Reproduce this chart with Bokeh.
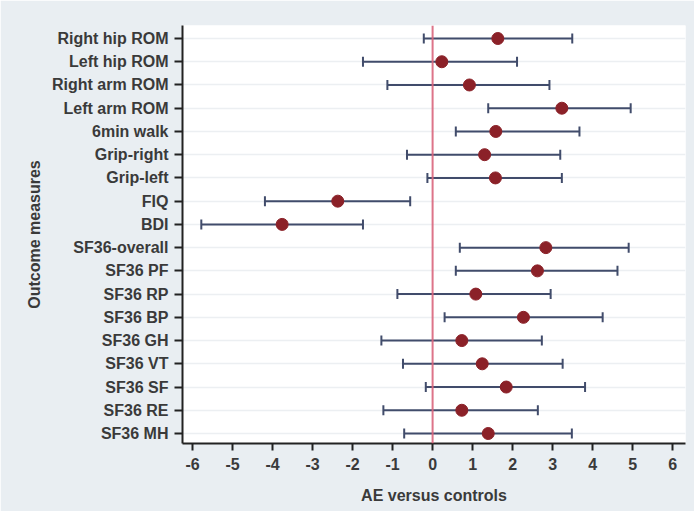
from bokeh.plotting import figure
from bokeh.models import ColumnDataSource, FixedTicker, Whisker, TeeHead, Span
from bokeh.embed import file_html
from bokeh.resources import INLINE

measures = ["Right hip ROM", "Left hip ROM", "Right arm ROM", "Left arm ROM",
            "6min walk", "Grip-right", "Grip-left", "FIQ", "BDI",
            "SF36-overall", "SF36 PF", "SF36 RP", "SF36 BP", "SF36 GH",
            "SF36 VT", "SF36 SF", "SF36 RE", "SF36 MH"]
estimate = [1.63, 0.23, 0.92, 3.23, 1.58, 1.30, 1.57, -2.37, -3.76,
            2.83, 2.62, 1.08, 2.27, 0.73, 1.24, 1.84, 0.73, 1.39]
ci_low = [-0.22, -1.74, -1.13, 1.39, 0.58, -0.64, -0.13, -4.19, -5.78,
          0.68, 0.58, -0.88, 0.30, -1.28, -0.74, -0.17, -1.23, -0.71]
ci_high = [3.49, 2.11, 2.92, 4.95, 3.67, 3.19, 3.23, -0.56, -1.74,
           4.90, 4.62, 2.95, 4.25, 2.73, 3.25, 3.81, 2.63, 3.48]
x_ticks = [-6, -5, -4, -3, -2, -1, 0, 1, 2, 3, 4, 5, 6]
x_tick_labels = ["-6", "-5", "-4", "-3", "-2", "-1", "0", "1", "2", "3", "4", "5", "6"]

n = len(measures)
ypos = [n - i for i in range(n)]

src = ColumnDataSource(dict(y=ypos, est=estimate, lo=ci_low, hi=ci_high))

PANEL = "#e9eef2"
FONT = "Liberation Sans"
TXT = "#3a3a3a"

p = figure(width=694, height=511, output_backend="svg", toolbar_location=None,
           x_range=(-6.25, 6.32), y_range=(0.57, n + 0.56),
           min_border_left=182, min_border_right=9, min_border_top=25,
           min_border_bottom=68)
p.border_fill_color = PANEL
p.background_fill_color = "white"
p.outline_line_color = None

p.xgrid.grid_line_color = None
p.ygrid.ticker = FixedTicker(ticks=ypos)
p.ygrid.grid_line_color = "#eceff2"
p.ygrid.grid_line_width = 1.5

p.add_layout(Span(location=0, dimension="height", line_color="#d9657c",
                  line_width=2, line_alpha=0.9))

w = Whisker(source=src, base="y", lower="lo", upper="hi", dimension="width",
            line_color="#414c6b", line_width=2,
            lower_head=TeeHead(size=10, line_color="#414c6b", line_width=2),
            upper_head=TeeHead(size=10, line_color="#414c6b", line_width=2))
p.add_layout(w)

p.scatter(x="est", y="y", source=src, size=12, fill_color="#8b2128",
          line_color="#8b2128")

p.yaxis.ticker = FixedTicker(ticks=ypos)
p.yaxis.major_label_overrides = {y: m for y, m in zip(ypos, measures)}
p.xaxis.ticker = FixedTicker(ticks=x_ticks)
p.xaxis.major_label_overrides = {t: s for t, s in zip(x_ticks, x_tick_labels)}

for ax in (p.xaxis, p.yaxis):
    ax.minor_tick_line_color = None
    ax.major_tick_in = 0
    ax.major_tick_out = 7
    ax.major_tick_line_width = 2
    ax.major_tick_line_color = "#222222"
    ax.axis_line_color = "#222222"
    ax.axis_line_width = 2
    ax.major_label_text_font = FONT
    ax.major_label_text_font_size = "16px"
    ax.major_label_text_font_style = "bold"
    ax.major_label_text_color = TXT
    ax.axis_label_text_font = FONT
    ax.axis_label_text_font_size = "16px"
    ax.axis_label_text_font_style = "bold"
    ax.axis_label_text_color = TXT

p.yaxis.major_tick_out = 8
p.yaxis.major_label_standoff = 6
p.xaxis.major_label_standoff = 7
p.yaxis.axis_label = "Outcome measures"
p.xaxis.axis_label = "AE versus controls"
p.yaxis.axis_label_standoff = 6
p.xaxis.axis_label_standoff = 14

open("out.html", "w").write(file_html(p, INLINE))
